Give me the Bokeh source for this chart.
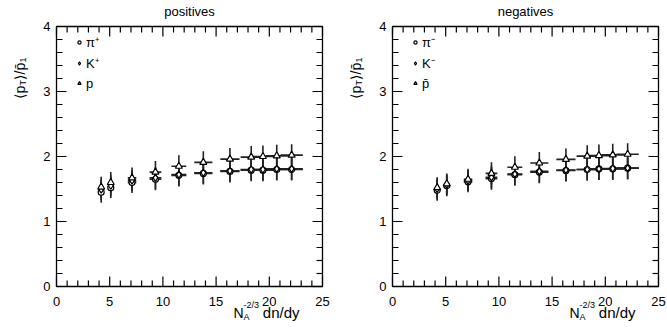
import math
from bokeh.plotting import figure
from bokeh.models import ColumnDataSource, Range1d, Legend, LegendItem
from bokeh.core.properties import value
from bokeh.layouts import row
from bokeh.embed import file_html
from bokeh.resources import INLINE

# ---------------- data ----------------
x_vals = [4.2, 5.1, 7.1, 9.3, 11.5, 13.8, 16.3, 18.3, 19.4, 20.7, 22.1]
x_err = [0.15, 0.2, 0.4, 0.55, 0.7, 0.85, 0.9, 1.0, 1.0, 1.05, 1.05]

pos_pi = [1.45, 1.52, 1.60, 1.65, 1.71, 1.74, 1.77, 1.79, 1.79, 1.80, 1.80]
pos_K = [1.49, 1.55, 1.63, 1.67, 1.72, 1.75, 1.78, 1.80, 1.80, 1.81, 1.81]
pos_p = [1.53, 1.60, 1.67, 1.76, 1.85, 1.91, 1.96, 1.99, 2.00, 2.01, 2.02]

neg_pi = [1.48, 1.55, 1.61, 1.66, 1.72, 1.76, 1.785, 1.80, 1.81, 1.81, 1.82]
neg_K = [1.50, 1.565, 1.63, 1.68, 1.73, 1.77, 1.79, 1.80, 1.81, 1.815, 1.82]
neg_p = [1.52, 1.58, 1.65, 1.74, 1.835, 1.90, 1.955, 2.005, 2.015, 2.025, 2.035]

y_err = [0.16, 0.16, 0.16, 0.17, 0.17, 0.17, 0.17, 0.17, 0.17, 0.17, 0.17]

x_major = [0, 5, 10, 15, 20, 25]
x_labels = ["0", "5", "10", "15", "20", "25"]
x_minor = [i for i in range(0, 26) if i % 5 != 0]
y_major = [0, 1, 2, 3, 4]
y_labels = ["0", "1", "2", "3", "4"]
y_minor = [round(0.2 * i, 2) for i in range(0, 21) if i % 5 != 0]

X_MIN, X_MAX, Y_MIN, Y_MAX = 0, 25, 0, 4

# ---------------- layout (pixels) ----------------
H = 328
FRAME_TOP = 26
FW = 266
FH = 260
SX = FW / (X_MAX - X_MIN)
SY = FH / (Y_MAX - Y_MIN)
FONT = "Liberation Sans"


def dx(px):
    return px / SX


def dy(px):
    return px / SY


def txt(p, x, y, s, size, align="left", baseline="alphabetic", angle=0.0):
    p.text(x=[x], y=[y], text=[s], angle=angle, text_align=align, text_baseline=baseline,
           text_font=value(FONT), text_font_size=f"{size}px", text_color="black")


def make_panel(title, labels, pi, K, pr, width, frame_left):
    x_start = X_MIN - dx(frame_left)
    x_end = X_MIN + dx(width - frame_left)
    y_start = Y_MIN - dy(H - FRAME_TOP - FH)
    y_end = Y_MAX + dy(FRAME_TOP)
    p = figure(width=width, height=H, min_border=0,
               x_range=Range1d(x_start, x_end), y_range=Range1d(y_start, y_end),
               x_axis_location=None, y_axis_location=None,
               output_backend="svg", toolbar_location=None)
    p.xgrid.visible = False
    p.ygrid.visible = False
    p.outline_line_color = None
    p.background_fill_color = "white"
    p.border_fill_color = "white"

    # frame
    p.quad(left=[X_MIN], right=[X_MAX], bottom=[Y_MIN], top=[Y_MAX],
           fill_color=None, line_color="black", line_width=1.3)

    # ticks (inward on all four sides)
    maj, mnr = 10, 6
    kw = dict(line_color="black", line_width=1.2)
    p.segment(x0=x_major, y0=[Y_MIN] * len(x_major), x1=x_major, y1=[Y_MIN + dy(maj)] * len(x_major), **kw)
    p.segment(x0=x_minor, y0=[Y_MIN] * len(x_minor), x1=x_minor, y1=[Y_MIN + dy(mnr)] * len(x_minor), **kw)
    p.segment(x0=x_major, y0=[Y_MAX] * len(x_major), x1=x_major, y1=[Y_MAX - dy(maj)] * len(x_major), **kw)
    p.segment(x0=x_minor, y0=[Y_MAX] * len(x_minor), x1=x_minor, y1=[Y_MAX - dy(mnr)] * len(x_minor), **kw)
    p.segment(x0=[X_MIN] * len(y_major), y0=y_major, x1=[X_MIN + dx(maj)] * len(y_major), y1=y_major, **kw)
    p.segment(x0=[X_MIN] * len(y_minor), y0=y_minor, x1=[X_MIN + dx(mnr)] * len(y_minor), y1=y_minor, **kw)
    p.segment(x0=[X_MAX] * len(y_major), y0=y_major, x1=[X_MAX - dx(maj)] * len(y_major), y1=y_major, **kw)
    p.segment(x0=[X_MAX] * len(y_minor), y0=y_minor, x1=[X_MAX - dx(mnr)] * len(y_minor), y1=y_minor, **kw)

    # tick labels
    p.text(x=x_major, y=[Y_MIN - dy(15)] * len(x_major), text=x_labels,
           text_align="center", text_baseline="alphabetic",
           text_font=value(FONT), text_font_size="13px", text_color="black")
    p.text(x=[X_MIN - dx(6)] * len(y_major), y=y_major, text=y_labels,
           text_align="right", text_baseline="middle",
           text_font=value(FONT), text_font_size="13px", text_color="black")

    # data
    srcs = []
    for vals in (pi, K, pr):
        src = ColumnDataSource(dict(
            x=x_vals, y=vals,
            xl=[a - e for a, e in zip(x_vals, x_err)],
            xh=[a + e for a, e in zip(x_vals, x_err)],
            yl=[a - e for a, e in zip(vals, y_err)],
            yh=[a + e for a, e in zip(vals, y_err)],
        ))
        p.segment(x0="x", y0="yl", x1="x", y1="yh", source=src, line_color="#222222", line_width=1.6)
        p.segment(x0="xl", y0="y", x1="xh", y1="y", source=src, line_color="#222222", line_width=1.7)
        srcs.append(src)
    scat = []
    for src, marker, size in zip(srcs, ["circle", "diamond", "triangle"], [6, 7, 7]):
        r = p.scatter(x="x", y="y", source=src, marker=marker, size=size,
                      fill_color="white", line_color="black", line_width=1.2)
        scat.append(r)

    legend = Legend(items=[LegendItem(label=lab, renderers=[r]) for lab, r in zip(labels, scat)],
                    location=(frame_left + 19, 237), glyph_width=8, glyph_height=8,
                    label_standoff=3, label_height=16, spacing=3, padding=0, margin=0,
                    border_line_color=None, background_fill_alpha=0,
                    label_text_font=FONT, label_text_font_size="13px", label_text_color="black")
    p.add_layout(legend)

    # title
    txt(p, (X_MIN + X_MAX) / 2, Y_MAX + dy(15.5), title, 13, align="center")

    # y-axis title <p_T>/p̄_1, rotated
    bx = X_MIN - dx(37)
    y0 = Y_MAX - dy(98 - FRAME_TOP)
    a = math.pi / 2
    txt(p, bx, y0, "\u27e8p", 14, angle=a)
    txt(p, bx + dx(3), y0 + dy(13), "T", 9, angle=a)
    txt(p, bx, y0 + dy(19), "\u27e9/p\u0304", 14, angle=a)
    txt(p, bx + dx(3), y0 + dy(36), "1", 9, angle=a)

    # x-axis title N_A^{-2/3} dn/dy
    yb = Y_MIN - dy(312 - (FRAME_TOP + FH))
    xn = X_MIN + dx(177)
    txt(p, xn, yb, "N", 14)
    txt(p, xn + dx(10), yb - dy(4), "A", 9)
    txt(p, xn + dx(10), yb + dy(8), "-2/3", 9)
    txt(p, X_MIN + dx(243), yb, "dn/dy", 15, align="right")
    return p


p1 = make_panel("positives", ["\u03c0\u207a", "K\u207a", "p"], pos_pi, pos_K, pos_p, 340, 56)
p2 = make_panel("negatives", ["\u03c0\u207b", "K\u207b", "p\u0304"], neg_pi, neg_K, neg_p, 327, 52)

layout = row(p1, p2)
open("out.html", "w").write(file_html(layout, INLINE))
